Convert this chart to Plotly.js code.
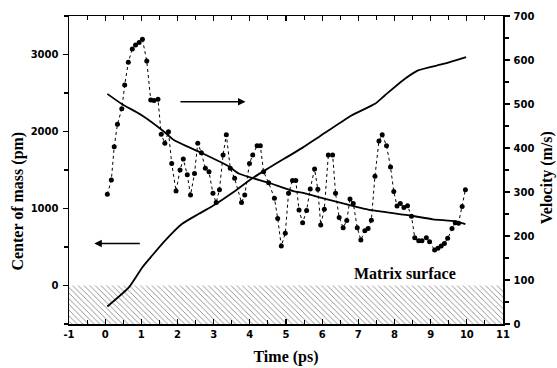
<!DOCTYPE html>
<html>
<head>
<meta charset="utf-8">
<script src="https://cdn.plot.ly/plotly-3.0.1.min.js"></script>
<style>html,body{margin:0;padding:0;background:#fff;}#chart{width:557px;height:368px;}</style>
</head>
<body>
<div id="chart"></div>
<script>
// Velocity data points (right axis, m/s)
const velTime = [0.06,0.17,0.25,0.34,0.46,0.54,0.64,0.75,0.84,0.94,1.03,1.15,1.26,1.35,1.46,1.55,1.65,1.75,1.84,1.96,2.07,2.16,2.27,2.36,2.47,2.56,2.66,2.77,2.87,2.98,3.07,3.16,3.26,3.35,3.46,3.58,3.77,3.86,3.99,4.08,4.2,4.29,4.38,4.52,4.68,4.77,4.87,4.98,5.07,5.18,5.27,5.36,5.46,5.57,5.67,5.79,5.88,5.96,6.06,6.17,6.29,6.37,6.47,6.58,6.68,6.77,6.86,6.97,7.07,7.18,7.27,7.36,7.46,7.57,7.66,7.78,7.89,7.98,8.07,8.16,8.26,8.36,8.47,8.56,8.67,8.76,8.88,8.97,9.11,9.2,9.29,9.38,9.47,9.59,9.68,9.77,9.87,9.96];
const velValues = [295,327,403,454,489,543,595,625,634,640,647,598,509,508,511,431,411,437,365,302,350,375,339,293,342,411,389,354,346,297,276,305,384,430,354,331,276,293,365,384,405,405,346,321,286,240,177,206,297,326,326,259,230,258,307,352,306,225,261,384,384,297,242,219,235,284,274,219,191,212,217,236,336,416,430,405,357,301,268,274,265,269,245,196,189,189,196,187,168,172,177,183,195,217,230,229,267,305];
// Smooth velocity fit (right axis)
const fitTime = [0.06,0.46,1.0,1.63,1.9,2.66,3.42,3.69,4.52,5.2,5.48,6.06,7.0,7.27,8.47,9.06,9.7,9.96];
const fitValues = [523,500,475,437,418,389,358,342,321,302,298,285,265,260,246,238,233,227];
// Center of mass (left axis, pm)
const comTime = [0.06,0.66,1.03,1.3,1.65,2.13,2.59,3.05,3.51,4.06,4.52,5.48,5.9,6.81,7.46,7.73,8.29,8.65,9.38,9.98];
const comValues = [-273,-22,238,390,580,801,931,1055,1200,1390,1525,1797,1926,2208,2360,2468,2685,2793,2880,2966];
// Matrix surface region (left axis)
const surfX = [-1,11,11,-1];
const surfY = [-500,-500,0,0];
// Tick labels
const xTickVals = [-1,0,1,2,3,4,5,6,7,8,9,10,11];
const xTickText = ['-1','0','1','2','3','4','5','6','7','8','9','10','11'];

const xTitle = 'Time (ps)';
const yTitle = 'Center of mass (pm)';
const y2Title = 'Velocity (m/s)';
const surfLabel = 'Matrix surface';

const serif = 'Liberation Serif, Times New Roman, serif';
const sans = 'DejaVu Sans, sans-serif';

const traces = [
  {x: surfX, y: surfY, type: 'scatter', mode: 'none', fill: 'toself',
   fillcolor: 'rgba(0,0,0,0)',
   fillpattern: {shape: '\\', fgcolor: '#7a7a7a', bgcolor: '#ffffff', size: 4, solidity: 0.2},
   hoverinfo: 'skip', showlegend: false, yaxis: 'y'},
  {x: comTime, y: comValues, type: 'scatter', mode: 'lines', line: {color: '#000', width: 1.8, shape: 'spline', smoothing: 0.6}, yaxis: 'y', showlegend: false},
  {x: fitTime, y: fitValues, type: 'scatter', mode: 'lines', line: {color: '#000', width: 1.8, shape: 'spline', smoothing: 0.6}, yaxis: 'y2', showlegend: false},
  {x: velTime, y: velValues, type: 'scatter', mode: 'lines+markers', line: {color: '#000', width: 1, dash: 'dot'}, marker: {color: '#000', size: 5}, yaxis: 'y2', showlegend: false}
];

const tickFont = {family: sans, size: 10, color: '#000', weight: 'bold'};

const layout = {
  width: 557, height: 368,
  margin: {l: 69, r: 54, t: 16, b: 44},
  paper_bgcolor: '#fff', plot_bgcolor: '#fff',
  showlegend: false,
  xaxis: {
    range: [-1, 11], tickmode: 'array', tickvals: xTickVals, ticktext: xTickText,
    ticks: 'inside', ticklen: 5, tickwidth: 1.2, tickcolor: '#000',
    minor: {dtick: 0.5, tick0: 0, ticks: 'inside', ticklen: 4, tickcolor: '#000', tickwidth: 1},
    showline: true, linecolor: '#000', linewidth: 1.5, mirror: 'ticks', showgrid: false, zeroline: false,
    tickfont: tickFont,
    title: {text: xTitle, font: {family: serif, size: 16, color: '#000', weight: 'bold'}, standoff: 12}
  },
  yaxis: {
    range: [-500, 3500], dtick: 1000, tick0: 0, ticks: 'outside', ticklen: 5, tickwidth: 1.2, tickcolor: '#000',
    minor: {dtick: 500, ticks: 'outside', ticklen: 4, tickcolor: '#000'},
    showline: true, linecolor: '#000', linewidth: 1.5, showgrid: false, zeroline: false,
    tickfont: tickFont, ticklabelstandoff: 2
  },
  yaxis2: {
    range: [0, 700], dtick: 100, tick0: 0, ticks: 'outside', ticklen: 5, tickwidth: 1.2, tickcolor: '#000',
    minor: {dtick: 50, ticks: 'outside', ticklen: 4, tickcolor: '#000'},
    overlaying: 'y', side: 'right', showline: true, linecolor: '#000', linewidth: 1.5, showgrid: false, zeroline: false,
    tickfont: tickFont, ticklabelstandoff: 2
  },
  annotations: [
    {text: yTitle, xref: 'paper', yref: 'paper', x: -0.118, y: 0.40, textangle: -90, showarrow: false,
     font: {family: serif, size: 16, color: '#000', weight: 'bold'}, xanchor: 'center', yanchor: 'middle'},
    {text: y2Title, xref: 'paper', yref: 'paper', x: 1.102, y: 0.474, textangle: -90, showarrow: false,
     font: {family: serif, size: 16, color: '#000', weight: 'bold'}, xanchor: 'center', yanchor: 'middle'},
    {text: surfLabel, xref: 'x', yref: 'y2', x: 8.3, y: 115, showarrow: false,
     font: {family: serif, size: 16, color: '#000', weight: 'bold'}, xanchor: 'center', yanchor: 'middle'},
    {text: '', xref: 'x', yref: 'y', x: -0.3, y: 546, axref: 'x', ayref: 'y', ax: 1.0, ay: 546,
     showarrow: true, arrowhead: 2, arrowsize: 1, arrowwidth: 1.5, arrowcolor: '#000'},
    {text: '', xref: 'x', yref: 'y2', x: 3.88, y: 505, axref: 'x', ayref: 'y2', ax: 2.04, ay: 505,
     showarrow: true, arrowhead: 2, arrowsize: 1, arrowwidth: 1.5, arrowcolor: '#000'}
  ]
};

Plotly.newPlot('chart', traces, layout, {displayModeBar: false, staticPlot: true});
</script>
</body>
</html>
